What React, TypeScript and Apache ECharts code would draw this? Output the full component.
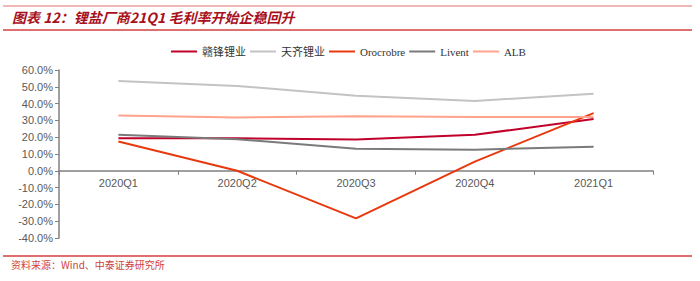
import React, { useEffect, useRef } from "react";
import * as echarts from "echarts";

const categories = ["2020Q1", "2020Q2", "2020Q3", "2020Q4", "2021Q1"];
const seriesNames = ["赣锋锂业", "天齐锂业", "Orocrobre", "Livent", "ALB"];
const ganfeng = [19.4, 19.4, 18.6, 21.4, 30.9];
const tianqi = [53.5, 50.5, 44.7, 41.6, 45.8];
const orocobre = [17.4, 0.0, -28.3, 5.5, 34.3];
const livent = [21.4, 18.8, 13.1, 12.6, 14.3];
const alb = [32.9, 31.8, 32.4, 32.0, 32.0];
const seriesColors = ["#C0002B", "#C3C3C3", "#E8380D", "#7A7A7A", "#FFA38C"];
const titleText = "图表 12：锂盐厂商21Q1 毛利率开始企稳回升";
const sourceText = "资料来源：Wind、中泰证券研究所";

const Y_MIN = -40;
const Y_MAX = 60;

export default function App() {
  const ref = useRef<HTMLDivElement>(null);
  useEffect(() => {
    document.body.style.margin = "0";
    const chart = echarts.init(ref.current!, null, { renderer: "svg" });
    const data = [ganfeng, tianqi, orocobre, livent, alb];
    const gridTop = 70;
    const gridBottom = 43;
    const gridH = 281 - gridTop - gridBottom;
    const zeroOffset = -(gridH * (0 - Y_MIN)) / (Y_MAX - Y_MIN);
    chart.setOption({
      animation: false,
      grid: { left: 59, right: 47, top: gridTop, bottom: gridBottom },
      legend: {
        top: 41,
        left: 166,
        itemWidth: 26,
        itemHeight: 10,
        itemGap: 4,
        icon: "path://M0,4L26,4L26,6L0,6Z",
        textStyle: { fontFamily: "Liberation Serif, Noto Sans CJK SC", fontSize: 11, color: "#333" },
        data: seriesNames,
      },
      xAxis: {
        type: "category",
        data: categories,
        boundaryGap: true,
        offset: zeroOffset,
        axisLine: { onZero: false, lineStyle: { color: "#808080", width: 1.5 } },
        axisTick: { show: true, length: 4, inside: false, lineStyle: { color: "#808080" } },
        axisLabel: { color: "#595959", fontSize: 11, fontFamily: "Liberation Sans, Arial", margin: 7 },
      },
      yAxis: {
        type: "value",
        min: Y_MIN,
        max: Y_MAX,
        interval: 10,
        splitLine: { show: false },
        axisLine: { show: true, lineStyle: { color: "#808080", width: 1.5 } },
        axisTick: { show: true, length: 4, lineStyle: { color: "#808080" } },
        axisLabel: {
          color: "#595959",
          fontSize: 11,
          fontFamily: "Liberation Sans, Arial",
          margin: 6,
          formatter: (v: number) => v.toFixed(1) + "%",
        },
      },
      series: seriesNames.map((name, i) => ({
        name,
        type: "line",
        data: data[i],
        symbol: "none",
        color: seriesColors[i],
        lineStyle: { width: 2, color: seriesColors[i] },
      })),
      graphic: [
        { type: "line", shape: { x1: 3, y1: 6, x2: 692, y2: 6 }, style: { stroke: "#E07070", lineWidth: 1 } },
        { type: "line", shape: { x1: 3, y1: 30, x2: 692, y2: 30 }, style: { stroke: "#E07070", lineWidth: 2 } },
        {
          type: "text",
          left: 12,
          top: 10,
          style: {
            text: titleText,
            fill: "#A8101C",
            font: "italic bold 14px 'Noto Sans CJK SC', sans-serif",
          },
        },
        { type: "line", shape: { x1: 3, y1: 256, x2: 692, y2: 256 }, style: { stroke: "#E07070", lineWidth: 2 } },
        {
          type: "text",
          left: 11,
          top: 259,
          style: {
            text: sourceText,
            fill: "#D0443A",
            font: "10px 'Noto Sans CJK SC', sans-serif",
          },
        },
      ],
    });
    return () => chart.dispose();
  }, []);
  return <div ref={ref} style={{ width: 700, height: 281 }} />;
}
